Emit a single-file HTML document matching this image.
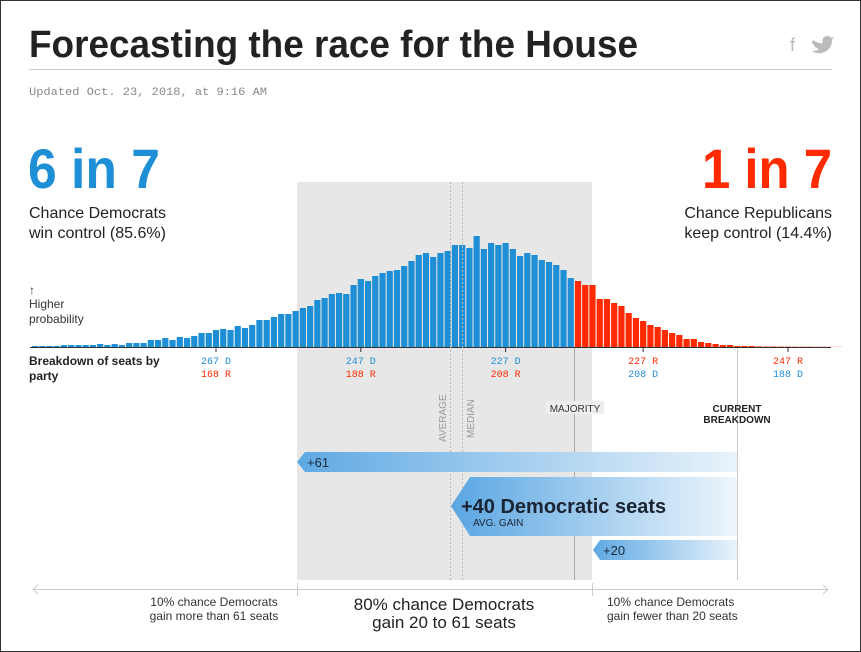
<!DOCTYPE html>
<html><head><meta charset="utf-8"><style>
html,body{margin:0;padding:0;background:#fff}
svg{display:block}
text{font-family:"Liberation Sans",sans-serif}
.mono{font-family:"Liberation Mono",monospace}
</style></head><body>
<svg id="chart" width="861" height="652" viewBox="0 0 861 652" xmlns="http://www.w3.org/2000/svg">
<defs>
<linearGradient id="g1" x1="0" x2="1" y1="0" y2="0"><stop offset="0" stop-color="#5fa9e3"/><stop offset="1" stop-color="#e9f3fb"/></linearGradient>
<linearGradient id="g2" x1="0" x2="1" y1="0" y2="0"><stop offset="0" stop-color="#5aa6e2"/><stop offset="1" stop-color="#eef6fc"/></linearGradient>
</defs>
<rect x="0.5" y="0.5" width="860" height="651" fill="#fff" stroke="#333"/>
<text x="29" y="57" font-size="38" font-weight="bold" fill="#222" textLength="609" lengthAdjust="spacingAndGlyphs">Forecasting the race for the House</text>
<text x="790" y="51" font-size="18" fill="#bbb">f</text>
<path d="M813,40 q6,4 10,3 q-2,-6 4,-7 q3,0 4,2 l3,-1 l-2,3 q0,10 -10,13 q-6,1 -10,-2 q5,0 7,-2 q-4,-1 -5,-4 q-3,-2 -1,-5z" fill="#bbb"/>
<line x1="29" y1="69.5" x2="832" y2="69.5" stroke="#ccc"/>
<text class="mono" x="29" y="95" font-size="11" fill="#888" textLength="238" lengthAdjust="spacingAndGlyphs">Updated Oct. 23, 2018, at 9:16 AM</text>
<rect x="297" y="182" width="295" height="398" fill="#e7e7e7"/>
<text x="28" y="188" font-size="56" font-weight="bold" fill="#1e8ed6" textLength="132" lengthAdjust="spacingAndGlyphs">6 in 7</text>
<text x="29" y="218" font-size="16" fill="#222">Chance Democrats</text>
<text x="29" y="238" font-size="16" fill="#222">win control (85.6%)</text>
<text x="832" y="188" font-size="56" font-weight="bold" fill="#ff2a00" text-anchor="end" textLength="130" lengthAdjust="spacingAndGlyphs">1 in 7</text>
<text x="832" y="218" font-size="16" fill="#222" text-anchor="end">Chance Republicans</text>
<text x="832" y="238" font-size="16" fill="#222" text-anchor="end">keep control (14.4%)</text>
<text x="29" y="294" font-size="12" fill="#333">↑</text>
<text x="29" y="308" font-size="12" fill="#333">Higher</text>
<text x="29" y="323" font-size="12" fill="#333">probability</text>
<text x="29" y="365" font-size="12" font-weight="bold" fill="#222">Breakdown of seats by</text>
<text x="29" y="380" font-size="12" font-weight="bold" fill="#222">party</text>
<g id="bars"></g>
<line x1="30" y1="347.5" x2="831" y2="347.5" stroke="#333"/>
<g id="ticks"></g>
<line x1="450.5" y1="182" x2="450.5" y2="580" stroke="#bbb" stroke-dasharray="2,2"/>
<line x1="462.5" y1="182" x2="462.5" y2="580" stroke="#bbb" stroke-dasharray="2,2"/>
<text transform="translate(446,442) rotate(-90)" font-size="10" fill="#999">AVERAGE</text>
<text transform="translate(474,438) rotate(-90)" font-size="10" fill="#999">MEDIAN</text>
<line x1="574.5" y1="348" x2="574.5" y2="580" stroke="#aaa"/>
<rect x="546" y="401" width="58" height="13" fill="#eee"/>
<text x="575" y="412" font-size="10" fill="#333" text-anchor="middle">MAJORITY</text>
<line x1="737.5" y1="348" x2="737.5" y2="580" stroke="#ccc"/>
<text x="737" y="412" font-size="10" font-weight="bold" fill="#222" text-anchor="middle">CURRENT</text>
<text x="737" y="423" font-size="10" font-weight="bold" fill="#222" text-anchor="middle">BREAKDOWN</text>
<polygon points="297,462 305,452 737,452 737,472 305,472" fill="url(#g1)"/>
<text x="307" y="467" font-size="13" fill="#1a2a3a">+61</text>
<polygon points="451,506 470,477 737,477 737,536 470,536" fill="url(#g2)"/>
<text x="461" y="513" font-size="20" font-weight="bold" fill="#1a2433">+40 Democratic seats</text>
<text x="473" y="526" font-size="10" fill="#1a2433">AVG. GAIN</text>
<polygon points="593,550 600,540 737,540 737,560 600,560" fill="url(#g1)"/>
<text x="603" y="555" font-size="13" fill="#1a2a3a">+20</text>
<line x1="33" y1="589.5" x2="828" y2="589.5" stroke="#ccc"/>
<polyline points="38,585 33,589.5 38,594" fill="none" stroke="#ccc"/>
<polyline points="823,585 828,589.5 823,594" fill="none" stroke="#ccc"/>
<line x1="297.5" y1="583" x2="297.5" y2="596" stroke="#ccc"/>
<line x1="592.5" y1="583" x2="592.5" y2="596" stroke="#ccc"/>
<text x="214" y="606" font-size="12" fill="#333" text-anchor="middle">10% chance Democrats</text>
<text x="214" y="620" font-size="12" fill="#333" text-anchor="middle">gain more than 61 seats</text>
<text x="444" y="610" font-size="17" fill="#222" text-anchor="middle">80% chance Democrats</text>
<text x="444" y="628" font-size="17" fill="#222" text-anchor="middle">gain 20 to 61 seats</text>
<text x="607" y="606" font-size="12" fill="#333">10% chance Democrats</text>
<text x="607" y="620" font-size="12" fill="#333">gain fewer than 20 seats</text>
</svg>
<script>
// Democratic seat counts (first bar) and probabilities (relative, px-scaled units)
const firstSeat = 292;
const majoritySeat = 218;
const probs = [1,1,1,1,2,2,2,2,2,3,2,3,2,
4,4,4,7,7,9,7,10,9,11,14,14,17,18,17,21,19,22,27,27,30,33,33,36,39,41,47,49,53,54,53,62,68,66,71,74,76,77,81,86,92,94,90,94,
96,102,102,99,111,98,104,102,104,98,91,94,92,87,85,82,77,69,
66,62,62,48,48,44,41,34,29,26,22,20,17,14,12,8,8,5,4,3,2,2,1,1,1,0.6,0.5,0.5,0.4,0.4,0.3,0.3,0.3,0.2,0.2,0.2,0.2];
const tickSeats = [267,247,227,208,188];
const tickTop = ["267 D","247 D","227 D","227 R","247 R"];
const tickBottom = ["168 R","188 R","208 R","208 D","188 D"];
const BLUE="#1e8ed6", RED="#ff2a00";
const x = s => 216 + (267 - s) * 7.24;
const y = v => 347 - v;
const ns="http://www.w3.org/2000/svg";
const gb=document.getElementById('bars');
probs.forEach((p,i)=>{
  const s = firstSeat - i;
  const r=document.createElementNS(ns,'rect');
  r.setAttribute('x', (x(s)-3.1).toFixed(2));
  r.setAttribute('width', 6.2);
  r.setAttribute('y', y(p));
  r.setAttribute('height', 347 - y(p));
  r.setAttribute('fill', s >= majoritySeat ? BLUE : RED);
  
  
  gb.appendChild(r);
});
const gt=document.getElementById('ticks');
tickSeats.forEach((s,i)=>{
  const l=document.createElementNS(ns,'line');
  l.setAttribute('x1',x(s));l.setAttribute('x2',x(s));l.setAttribute('y1',348);l.setAttribute('y2',352);
  l.setAttribute('stroke','#333');
  
  
  gt.appendChild(l);
  const demFirst = i < 3;
  [[tickTop[i],364,demFirst?BLUE:RED],[tickBottom[i],377,demFirst?RED:BLUE]].forEach(([t,yy,c])=>{
    const tx=document.createElementNS(ns,'text');
    tx.setAttribute('x',x(s));tx.setAttribute('y',yy);
    tx.setAttribute('text-anchor','middle');tx.setAttribute('font-size','10');
    tx.setAttribute('class','mono');tx.setAttribute('fill',c);
    tx.textContent=t;
    
    
    gt.appendChild(tx);
  });
});
</script>
</body></html>
